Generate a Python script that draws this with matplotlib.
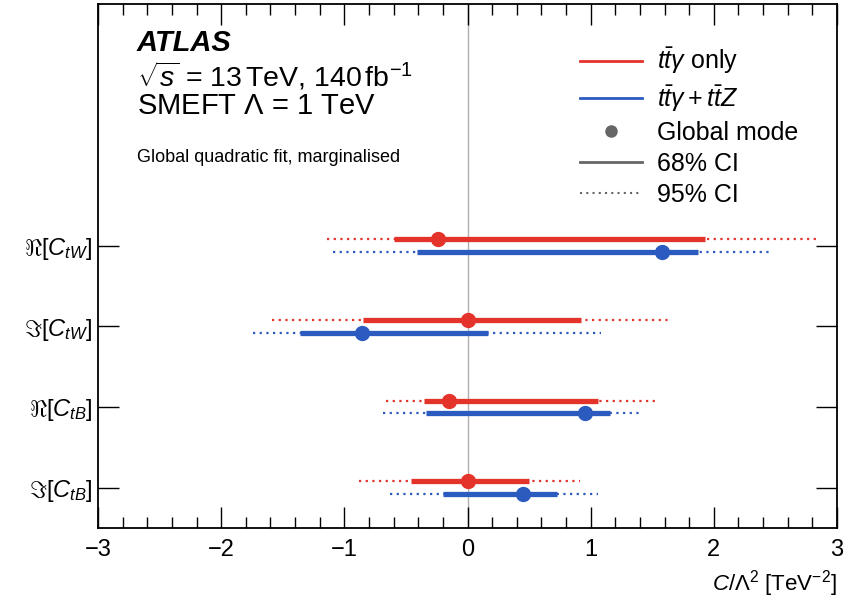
import matplotlib
matplotlib.use("Agg")
import matplotlib.pyplot as plt
from matplotlib.lines import Line2D
from matplotlib.ticker import MultipleLocator

plt.rcParams['font.family'] = ['Liberation Sans', 'DejaVu Sans']
plt.rcParams['mathtext.fontset'] = 'custom'
plt.rcParams['mathtext.rm'] = 'Liberation Sans'
plt.rcParams['mathtext.it'] = 'Liberation Sans:italic'
plt.rcParams['mathtext.bf'] = 'Liberation Sans:bold'

# parameters, top to bottom
labels = [r'$\Re[C_{tW}]$', r'$\Im[C_{tW}]$', r'$\Re[C_{tB}]$', r'$\Im[C_{tB}]$']
ypos = [4, 3, 2, 1]

# ttgamma only
tta_mode = [-0.24, 0.00, -0.15, 0.00]
tta_lo68 = [-0.60, -0.85, -0.35, -0.46]
tta_hi68 = [1.93, 0.92, 1.06, 0.50]
tta_lo95 = [-1.14, -1.59, -0.66, -0.88]
tta_hi95 = [2.83, 1.66, 1.52, 0.91]

# ttgamma + ttZ
comb_mode = [1.58, -0.86, 0.95, 0.45]
comb_lo68 = [-0.41, -1.36, -0.34, -0.20]
comb_hi68 = [1.87, 0.165, 1.16, 0.73]
comb_lo95 = [-1.09, -1.74, -0.69, -0.63]
comb_hi95 = [2.46, 1.085, 1.41, 1.06]

red = '#e4332a'
blue = '#2c5bbf'
off = 0.08

fig = plt.figure(figsize=(8.48, 6.0), dpi=100)
ax = fig.add_axes([0.1156, 0.12, 0.8714, 0.874])

ax.axvline(0, color='#b0b0b0', lw=1, zorder=0)

dots = (0, (1, 2.0))
for ys, col, lo95, hi95, lo68, hi68, mode in [
        ([y + off for y in ypos], red, tta_lo95, tta_hi95, tta_lo68, tta_hi68, tta_mode),
        ([y - off for y in ypos], blue, comb_lo95, comb_hi95, comb_lo68, comb_hi68, comb_mode)]:
    ax.hlines(ys, lo95, hi95, colors=col, lw=1.6, linestyles=dots, zorder=2)
    ax.hlines(ys, lo68, hi68, colors=col, lw=3.8, zorder=3)
    ax.plot(mode, ys, 'o', color=col, ms=10, zorder=4)

ax.set_xlim(-3, 3)
ax.set_ylim(0.5, 7.0)
ax.set_yticks(ypos)
ax.set_yticklabels(labels)
ax.xaxis.set_major_locator(MultipleLocator(1))
ax.xaxis.set_minor_locator(MultipleLocator(0.2))
ax.tick_params(axis='both', which='major', direction='in', top=True, right=True,
               length=15, width=1.0, labelsize=17)
ax.tick_params(axis='x', which='major', pad=8)
ax.tick_params(axis='y', which='major', pad=4)
ax.tick_params(axis='x', which='minor', direction='in', top=True, length=8, width=1.0)
for s in ax.spines.values():
    s.set_linewidth(1.3)

ax.set_xlabel(r'$C/\Lambda^2$ [TeV$^{-2}$]', fontsize=16, loc='right', labelpad=5)

fig.text(0.1616, 0.928, 'ATLAS', fontsize=21, fontweight='bold', fontstyle='italic', va='center')
fig.text(0.1616, 0.873, r'$\sqrt{s}$ = 13$\,$TeV, 140$\,$fb$^{-1}$', fontsize=20.5, va='center')
fig.text(0.1616, 0.823, r'SMEFT $\Lambda$ = 1 TeV', fontsize=21, va='center')
fig.text(0.1616, 0.738, 'Global quadratic fit, marginalised', fontsize=13, va='center')

handles = [
    Line2D([], [], color=red, lw=2),
    Line2D([], [], color=blue, lw=2),
    Line2D([], [], color='#666666', marker='o', ls='none', ms=8),
    Line2D([], [], color='#666666', lw=2),
    Line2D([], [], color='#666666', lw=1.5, ls=dots),
]
names = [r'$t\bar{t}\gamma$ only', r'$t\bar{t}\gamma + t\bar{t}Z$', 'Global mode', '68% CI', '95% CI']
ax.legend(handles, names, loc='upper left', bbox_to_anchor=(0.652, 0.92), frameon=False,
          fontsize=18, handlelength=2.5, handletextpad=0.6, labelspacing=0.28,
          borderpad=0, borderaxespad=0)

fig.savefig('out.png', dpi=100)
